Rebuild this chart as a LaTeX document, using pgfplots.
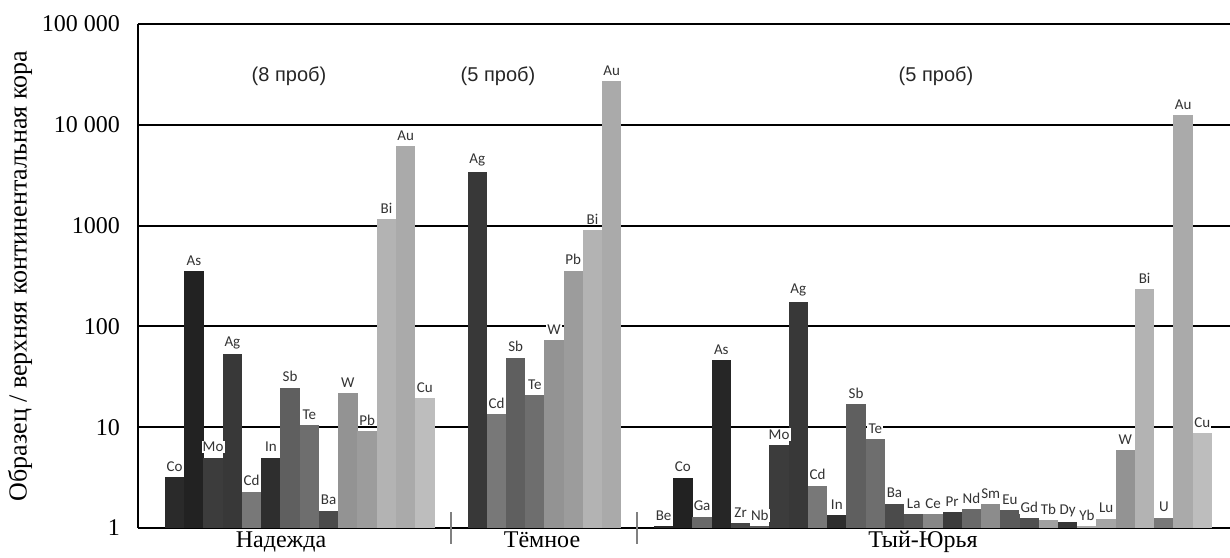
\documentclass[border=0pt]{standalone}
\usepackage{fontspec}
\setmainfont{Liberation Serif}
\newfontfamily\lab{Carlito}
\newfontfamily\ars{Liberation Sans}
\usepackage{pgfplots}
\pgfplotsset{compat=1.18}
\usetikzlibrary{calc}
\newcommand{\B}[4]{\addplot[ybar, bar width=19.24, bar shift=0pt, draw=none,
  fill={rgb,255:red,#4;green,#4;blue,#4},
  nodes near coords={#3},
  nodes near coords style={font=\lab\fontsize{7.5}{8}\selectfont, text=black!80, fill=white, inner sep=0.6pt, anchor=south, yshift=2pt}]
  coordinates {(#1,#2)};}
\begin{document}
\begin{tikzpicture}
\begin{axis}[
  scale only axis, width=546pt, height=252pt,
  xmin=138, xmax=1230,
  ymode=log, log basis y=10, ymin=1, ymax=100000,
  axis x line*=bottom, axis y line*=left,
  axis line style={black, line width=1pt},
  ytick={1,10,100,1000,10000,100000},
  yticklabels={1,10,100,1000,10\ 000,100\ 000},
  yticklabel style={font=\fontsize{12}{14}\selectfont, xshift=-5.5pt},
  ytick style={draw=none},
  ymajorgrids, grid style={black, line width=1pt},
  yminorticks=false,
  xtick={281,542,923},
  xticklabels={Надежда,Тёмное,Тый-Юрья},
  xticklabel style={font=\fontsize{12}{14}\selectfont, inner sep=1pt, yshift=-0.5pt},
  major x tick style={draw=none},
  extra x ticks={451,637},
  extra x tick labels={},
  extra x tick style={major tick length=16pt, tick align=center, major x tick style={draw=gray, line width=0.8pt}},
  clip=false,
]
% Надежда
\B{174.6}{3.2}{Co}{42}
\B{193.9}{351}{As}{34}
\B{213.1}{5.0}{Mo}{60}
\B{232.4}{53}{Ag}{56}
\B{251.6}{2.3}{Cd}{120}
\B{270.9}{5.0}{In}{46}
\B{290.1}{24.7}{Sb}{95}
\B{309.4}{10.4}{Te}{110}
\B{328.6}{1.49}{Ba}{75}
\B{347.9}{21.8}{W}{147}
\B{367.1}{9.2}{Pb}{156}
\B{386.4}{1170}{Bi}{179}
\B{405.6}{6120}{Au}{170}
\B{424.9}{19.4}{Cu}{189}
% Тёмное
\B{477.3}{3430}{Ag}{56}
\B{496.5}{13.5}{Cd}{120}
\B{515.7}{49}{Sb}{95}
\B{534.9}{20.9}{Te}{110}
\B{554.1}{73.6}{W}{147}
\B{573.3}{357}{Pb}{156}
\B{592.5}{911}{Bi}{179}
\B{611.7}{27000}{Au}{170}
% Тый-Юрья
\B{663.6}{1.05}{Be}{42}
\B{682.9}{3.16}{Co}{34}
\B{702.1}{1.3}{Ga}{105}
\B{721.3}{46.6}{As}{38}
\B{740.6}{1.12}{Zr}{70}
\B{759.8}{1.04}{Nb}{90}
\B{779.1}{6.67}{Mo}{60}
\B{798.3}{174}{Ag}{56}
\B{817.5}{2.63}{Cd}{120}
\B{836.8}{1.35}{In}{46}
\B{856.0}{17}{Sb}{95}
\B{875.3}{7.6}{Te}{110}
\B{894.5}{1.75}{Ba}{75}
\B{913.7}{1.37}{La}{85}
\B{933.0}{1.37}{Ce}{135}
\B{952.2}{1.44}{Pr}{60}
\B{971.5}{1.55}{Nd}{105}
\B{990.7}{1.72}{Sm}{140}
\B{1009.9}{1.51}{Eu}{90}
\B{1029.2}{1.25}{Gd}{80}
\B{1048.4}{1.2}{Tb}{160}
\B{1067.7}{1.14}{Dy}{55}
\B{1086.9}{1.05}{Yb}{170}
\B{1106.1}{1.24}{Lu}{165}
\B{1125.4}{5.95}{W}{147}
\B{1144.6}{236}{Bi}{179}
\B{1163.9}{1.27}{U}{120}
\B{1183.1}{12400}{Au}{170}
\B{1202.3}{8.7}{Cu}{189}
\node[font=\ars\fontsize{10}{12}\selectfont, text=black!85] at (axis cs:289,30000) {(8 проб)};
\node[font=\ars\fontsize{10}{12}\selectfont, text=black!85] at (axis cs:498,30000) {(5 проб)};
\node[font=\ars\fontsize{10}{12}\selectfont, text=black!85] at (axis cs:936,30000) {(5 проб)};
\node[rotate=90, font=\fontsize{13}{15}\selectfont] at ([xshift=-59pt]rel axis cs:0,0.5) {Образец / верхняя континентальная кора};
\coordinate (SW) at (rel axis cs:0,0);
\coordinate (NE) at (rel axis cs:1,1);
\end{axis}
\pgfresetboundingbox
\path[use as bounding box] ($(SW)+(-69pt,-14.5pt)$) rectangle ($(NE)+(0,12pt)$);
\end{tikzpicture}
\end{document}
